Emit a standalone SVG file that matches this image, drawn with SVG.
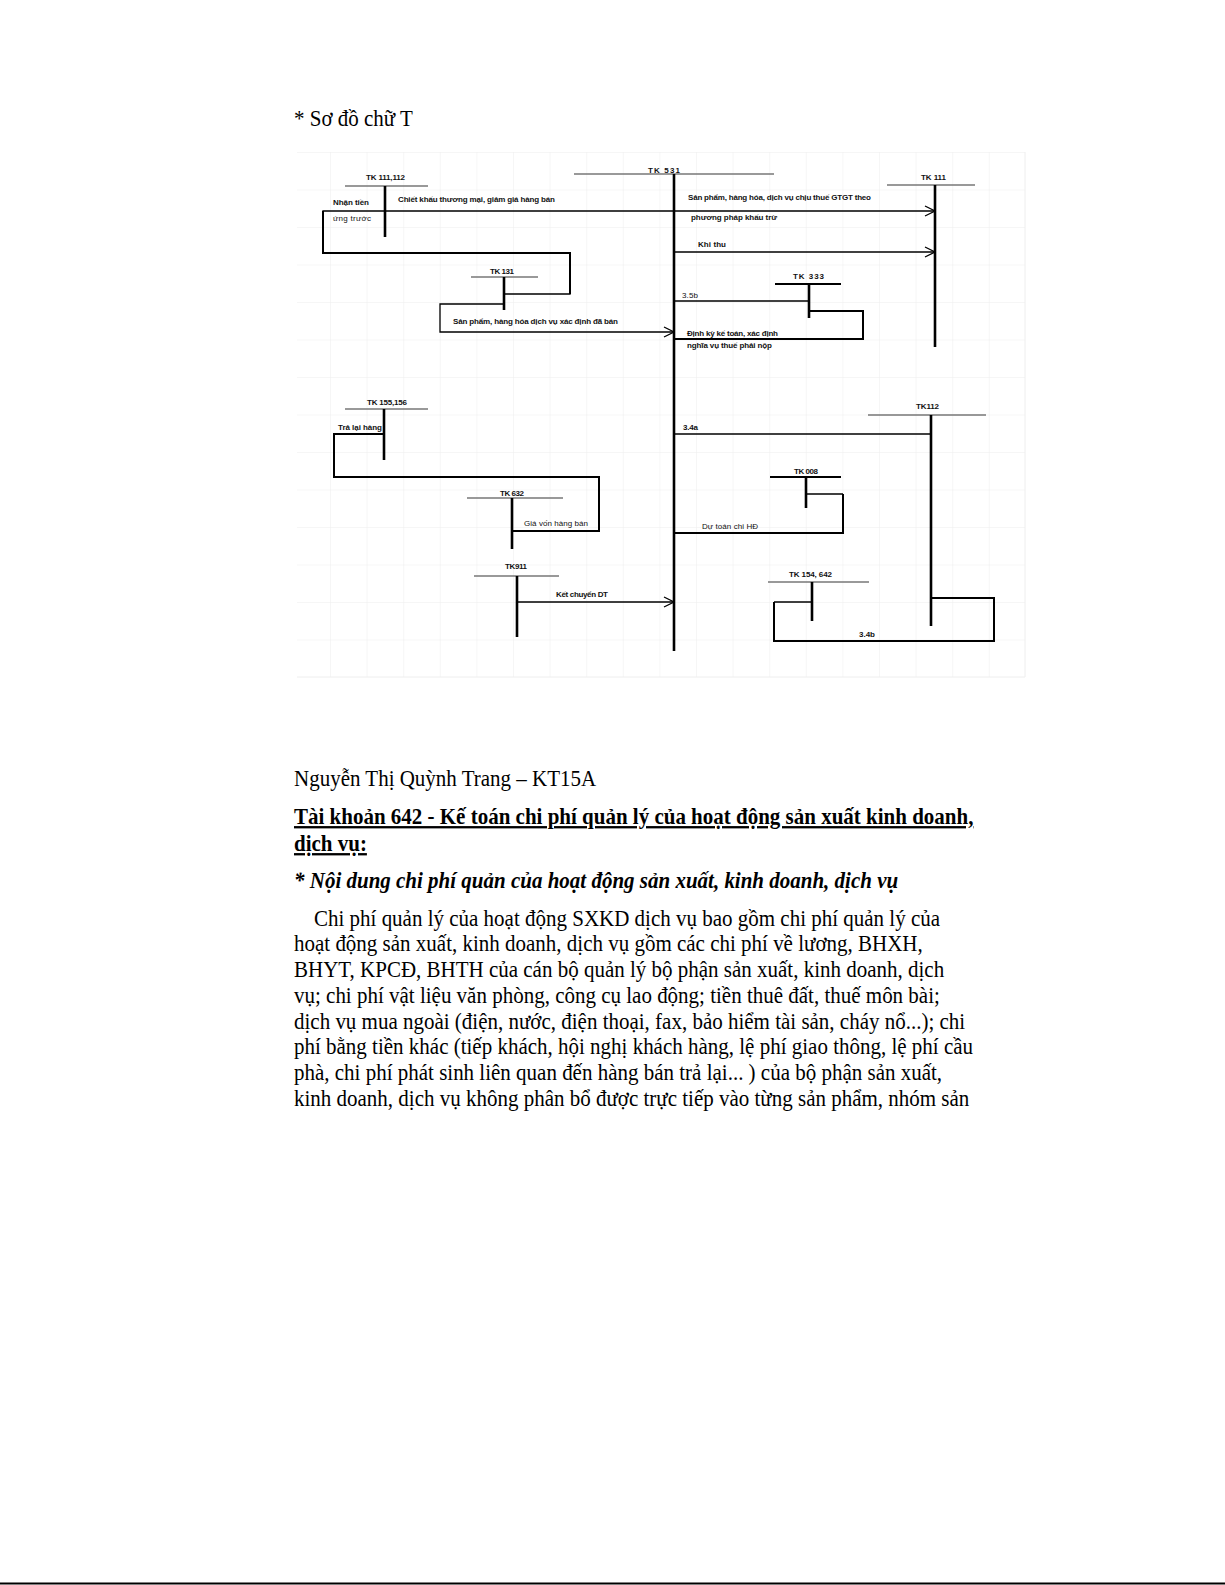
<svg xmlns="http://www.w3.org/2000/svg" width="1225" height="1585" viewBox="0 0 1225 1585">
<defs>
<marker id="arr" markerWidth="12" markerHeight="12" refX="11" refY="6" orient="auto" markerUnits="userSpaceOnUse">
<path d="M1,1 L11,6 L1,11" fill="none" stroke="#000" stroke-width="1.3"/>
</marker>
<pattern id="grid" x="293.4" y="152" width="36.6" height="37.5" patternUnits="userSpaceOnUse">
<path d="M0,0 V37.5 M0,0 H36.6" fill="none" stroke="#eeeeee" stroke-width="1"/>
</pattern>
</defs>
<style>
.lbl{font-family:"Liberation Sans","DejaVu Sans",sans-serif;font-size:8px;fill:#111;}
.bold{font-weight:bold;}
.tk{stroke:#777;stroke-width:1.6;fill:none;}
.tkb{stroke:#000;stroke-width:2;fill:none;}
.post{stroke:#000;stroke-width:2.6;fill:none;}
.con{stroke:#000;stroke-width:1.3;fill:none;}
.conb{stroke:#000;stroke-width:2;fill:none;}
.doc{font-family:"Liberation Serif","Times New Roman",serif;font-size:21px;fill:#000;}
</style>
<rect width="1225" height="1585" fill="#fff"/>
<rect x="297" y="152" width="728" height="525" fill="url(#grid)"/>
<line x1="297" y1="677" x2="1025" y2="677" stroke="#eeeeee" stroke-width="1"/>
<line x1="1025" y1="152" x2="1025" y2="677" stroke="#eeeeee" stroke-width="1"/>

<g transform="scale(1,1.1)">
<text class="doc" x="294" y="114.55">* Sơ đồ chữ T</text>
</g>

<g id="connectors">
<path class="con" d="M504,294 H570 V253 H323 V211 H935" marker-end="url(#arr)"/>
<path class="conb" d="M570,294 V253 H323 V211"/>
<path class="con" d="M504,304 H440 V332 H674" marker-end="url(#arr)"/>
<path class="con" d="M674,252 H935" marker-end="url(#arr)"/>
<path class="con" d="M674,301 H809"/>
<path class="conb" d="M809,311 H863 V339 H674"/>
<path class="conb" d="M384,434 H334 V477 H599 V531 H512"/>
<path class="con" d="M674,434 H931"/>
<path class="con" d="M806,494 H843"/>
<path class="conb" d="M843,494 V533 H673"/>
<path class="con" d="M517,602 H674" marker-end="url(#arr)"/>
<path class="con" d="M812,602 H774"/>
<path class="conb" d="M774,602 V641 H994 V598 H931"/>
</g>

<g id="tk531">
<line class="tk" x1="574" y1="174" x2="774" y2="174"/>
<line class="post" x1="674" y1="174" x2="674" y2="651" stroke-width="1.6"/>
<text class="lbl bold" x="648" y="173" textLength="32">TK 531</text>
</g>
<g id="tk111112">
<line class="tk" x1="345" y1="186" x2="428" y2="186"/>
<line class="post" x1="385" y1="186" x2="385" y2="237"/>
<text class="lbl bold" x="366" y="180" textLength="39">TK 111,112</text>
</g>
<g id="tk131">
<line class="tk" x1="471" y1="277" x2="538" y2="277"/>
<line class="post" x1="504" y1="277" x2="504" y2="310"/>
<text class="lbl bold" x="490" y="274" textLength="24">TK 131</text>
</g>
<g id="tk111">
<line class="tk" x1="887" y1="185" x2="975" y2="185"/>
<line class="post" x1="935" y1="185" x2="935" y2="347" stroke-width="2"/>
<text class="lbl bold" x="921" y="180" textLength="25">TK 111</text>
</g>
<g id="tk333">
<line class="tkb" x1="775" y1="284" x2="841" y2="284"/>
<line class="post" x1="809" y1="284" x2="809" y2="318"/>
<text class="lbl bold" x="793" y="279" textLength="31">TK 333</text>
</g>
<g id="tk155156">
<line class="tk" x1="345" y1="409" x2="428" y2="409"/>
<line class="post" x1="384" y1="409" x2="384" y2="460"/>
<text class="lbl bold" x="367" y="405" textLength="40">TK 155,156</text>
</g>
<g id="tk632">
<line class="tk" x1="467" y1="498" x2="563" y2="498"/>
<line class="post" x1="512" y1="498" x2="512" y2="549"/>
<text class="lbl bold" x="500" y="496" textLength="24">TK 632</text>
</g>
<g id="tk112">
<line class="tk" x1="868" y1="415" x2="986" y2="415"/>
<line class="post" x1="931" y1="415" x2="931" y2="626"/>
<text class="lbl bold" x="916" y="409" textLength="23">TK112</text>
</g>
<g id="tk008">
<line class="tkb" x1="770" y1="477" x2="841" y2="477"/>
<line class="post" x1="806" y1="477" x2="806" y2="508"/>
<text class="lbl bold" x="794" y="474" textLength="24">TK 008</text>
</g>
<g id="tk911">
<line class="tk" x1="474" y1="576" x2="559" y2="576" stroke-width="2"/>
<line class="post" x1="517" y1="576" x2="517" y2="637"/>
<text class="lbl bold" x="505" y="569" textLength="22">TK911</text>
</g>
<g id="tk154642">
<line class="tk" x1="768" y1="582" x2="869" y2="582"/>
<line class="post" x1="812" y1="582" x2="812" y2="621"/>
<text class="lbl bold" x="789" y="577" textLength="43">TK 154, 642</text>
</g>

<g id="labels">
<text class="lbl bold" x="333" y="205" textLength="36">Nhận tiền</text>
<text class="lbl" x="333" y="221" textLength="38">ứng trước</text>
<text class="lbl bold" x="398" y="202" textLength="157">Chiết khấu thương mại, giảm giá hàng bán</text>
<text class="lbl bold" x="453" y="324" textLength="165">Sản phẩm, hàng hóa dịch vụ xác định đã bán</text>
<text class="lbl bold" x="688" y="200" textLength="183">Sản phẩm, hàng hóa, dịch vụ chịu thuế GTGT theo</text>
<text class="lbl bold" x="691" y="220" textLength="86">phương pháp khấu trừ</text>
<text class="lbl bold" x="698" y="247" textLength="28">Khi thu</text>
<text class="lbl" x="682" y="298" textLength="16">3.5b</text>
<text class="lbl bold" x="687" y="336" textLength="91">Định kỳ kế toán, xác định</text>
<text class="lbl bold" x="687" y="348" textLength="85">nghĩa vụ thuế phải nộp</text>
<text class="lbl bold" x="338" y="430" textLength="44">Trả lại hàng</text>
<text class="lbl" x="524" y="526" textLength="64">Giá vốn hàng bán</text>
<text class="lbl bold" x="683" y="430" textLength="15">3.4a</text>
<text class="lbl" x="702" y="529" textLength="56">Dự toán chi HĐ</text>
<text class="lbl bold" x="556" y="597" textLength="52">Kết chuyển DT</text>
<text class="lbl bold" x="859" y="637" textLength="16">3.4b</text>
</g>

<g transform="scale(1,1.1)">
<text class="doc" x="294" y="714.55">Nguyễn Thị Quỳnh Trang – KT15A</text>
<text class="doc" x="294" y="749.09" font-weight="bold" text-decoration="underline">Tài khoản 642 - Kế toán chi phí quản lý của hoạt động sản xuất kinh doanh,</text>
<text class="doc" x="294" y="773.64" font-weight="bold" text-decoration="underline">dịch vụ:</text>
<text class="doc" x="294" y="807.27" font-weight="bold" font-style="italic">* Nội dung chi phí quản của hoạt động sản xuất, kinh doanh, dịch vụ</text>
<text class="doc" x="314" y="841.82">Chi phí quản lý của hoạt động SXKD dịch vụ bao gồm chi phí quản lý của</text>
<text class="doc" x="294" y="864.55">hoạt động sản xuất, kinh doanh, dịch vụ gồm các chi phí về lương, BHXH,</text>
<text class="doc" x="294" y="888.18">BHYT, KPCĐ, BHTH của cán bộ quản lý bộ phận sản xuất, kinh doanh, dịch</text>
<text class="doc" x="294" y="911.82">vụ; chi phí vật liệu văn phòng, công cụ lao động; tiền thuê đất, thuế môn bài;</text>
<text class="doc" x="294" y="935.45">dịch vụ mua ngoài (điện, nước, điện thoại, fax, bảo hiểm tài sản, cháy nổ...); chi</text>
<text class="doc" x="294" y="958.18">phí bằng tiền khác (tiếp khách, hội nghị khách hàng, lệ phí giao thông, lệ phí cầu</text>
<text class="doc" x="294" y="981.82">phà, chi phí phát sinh liên quan đến hàng bán trả lại... ) của bộ phận sản xuất,</text>
<text class="doc" x="294" y="1005.45">kinh doanh, dịch vụ không phân bổ được trực tiếp vào từng sản phẩm, nhóm sản</text>
</g>

<line x1="0" y1="1583.5" x2="1225" y2="1583.5" stroke="#000" stroke-width="2"/>
</svg>
